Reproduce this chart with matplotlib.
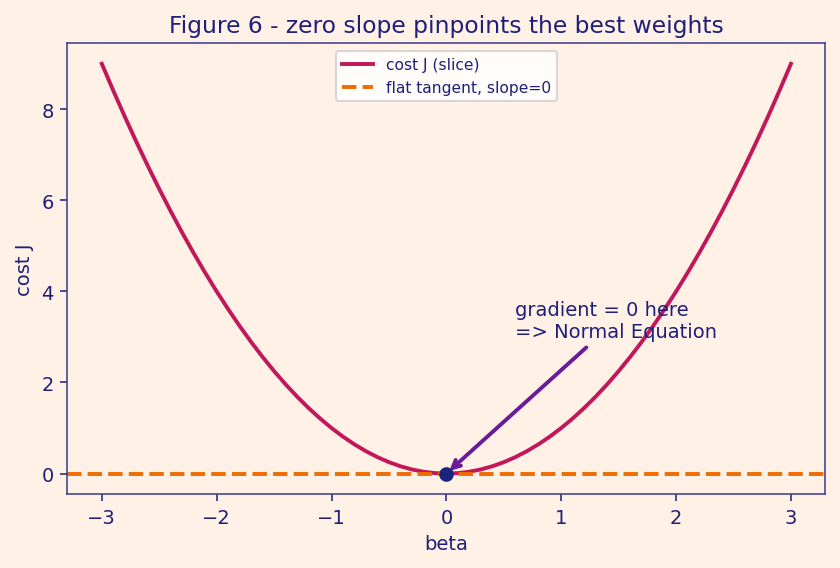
import numpy as np
import matplotlib.pyplot as plt

# values (every 0.1 in beta)
beta = [-3.0, -2.9, -2.8, -2.7, -2.6, -2.5, -2.4, -2.3, -2.2, -2.1, -2.0,
        -1.9, -1.8, -1.7, -1.6, -1.5, -1.4, -1.3, -1.2, -1.1, -1.0,
        -0.9, -0.8, -0.7, -0.6, -0.5, -0.4, -0.3, -0.2, -0.1, 0.0,
        0.1, 0.2, 0.3, 0.4, 0.5, 0.6, 0.7, 0.8, 0.9, 1.0,
        1.1, 1.2, 1.3, 1.4, 1.5, 1.6, 1.7, 1.8, 1.9, 2.0,
        2.1, 2.2, 2.3, 2.4, 2.5, 2.6, 2.7, 2.8, 2.9, 3.0]
cost = [9.0, 8.41, 7.84, 7.29, 6.76, 6.25, 5.76, 5.29, 4.84, 4.41, 4.0,
        3.61, 3.24, 2.89, 2.56, 2.25, 1.96, 1.69, 1.44, 1.21, 1.0,
        0.81, 0.64, 0.49, 0.36, 0.25, 0.16, 0.09, 0.04, 0.01, 0.0,
        0.01, 0.04, 0.09, 0.16, 0.25, 0.36, 0.49, 0.64, 0.81, 1.0,
        1.21, 1.44, 1.69, 1.96, 2.25, 2.56, 2.89, 3.24, 3.61, 4.0,
        4.41, 4.84, 5.29, 5.76, 6.25, 6.76, 7.29, 7.84, 8.41, 9.0]
best_beta = 0.0
best_cost = 0.0
tangent_level = 0.0

bg = '#fff1e6'
ink = '#1f1f7a'

fig, ax = plt.subplots(figsize=(6, 4.064), dpi=140)
fig.patch.set_facecolor(bg)
ax.set_facecolor(bg)

ax.plot(beta, cost, color='#c2185b', lw=2, label='cost J (slice)')
ax.axhline(tangent_level, color='#ef6c00', lw=2, ls='--', label='flat tangent, slope=0')
ax.plot([best_beta], [best_cost], 'o', color='#1a237e', ms=6.5, zorder=5)
ax.annotate('gradient = 0 here\n=> Normal Equation', xy=(best_beta, best_cost), xytext=(0.6, 3.0),
            color=ink, fontsize=10,
            arrowprops=dict(arrowstyle='->', color='#6a1b9a', lw=2))

ax.set_title('Figure 6 - zero slope pinpoints the best weights', color=ink, fontsize=12)
ax.set_xlabel('beta', color=ink, fontsize=10)
ax.set_ylabel('cost J', color=ink, fontsize=10)
ax.tick_params(colors=ink, labelsize=10)
for s in ax.spines.values():
    s.set_color('#3b3b8f')

leg = ax.legend(loc='upper center', fontsize=8, facecolor='white', framealpha=0.8, edgecolor='#cccccc')
for t in leg.get_texts():
    t.set_color(ink)

plt.tight_layout(pad=0.75)
plt.savefig('out.png', dpi=140, facecolor=bg)
